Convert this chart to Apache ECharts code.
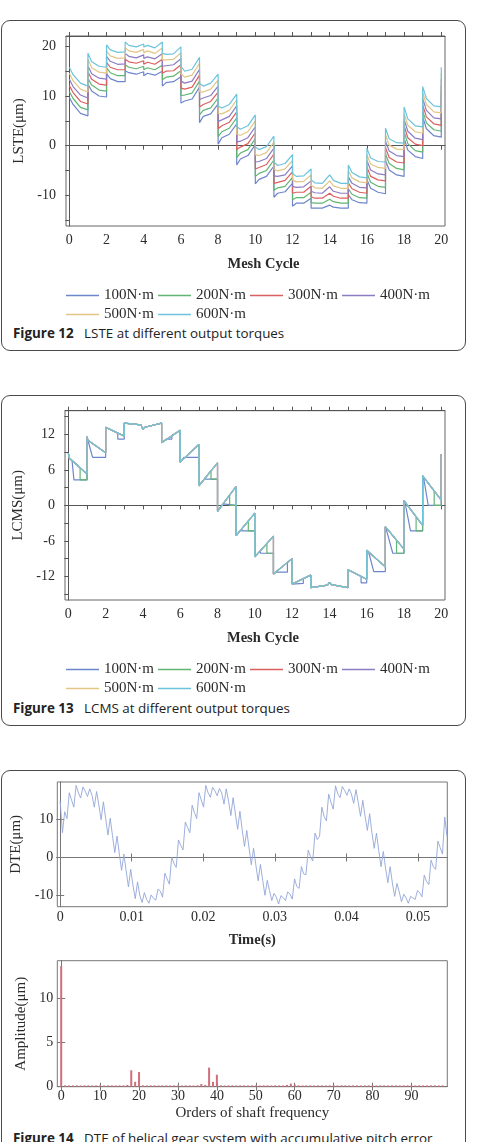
<!DOCTYPE html>
<html>
<head>
<meta charset="utf-8">
<script src="https://cdn.jsdelivr.net/npm/echarts@6/dist/echarts.min.js"></script>
<style>
  html, body { margin: 0; padding: 0; background: #fff; }
  body { width: 481px; height: 1142px; position: relative; overflow: hidden; font-family: "Open Sans", sans-serif; }
  .box { position: absolute; left: 1px; width: 465px; border: 1.3px solid #4a4a4a; border-radius: 9px; box-sizing: border-box; }
  .chart { position: absolute; left: 0; width: 481px; }
  .cap { position: absolute; left: 13px; font-size: 13.4px; line-height: 18px; color: #222; white-space: nowrap; }
  .cap b { font-weight: 700; margin-right: 7px; }
</style>
</head>
<body>
<div class="box" style="top:20px;height:331px"></div>
<div class="box" style="top:395px;height:331px"></div>
<div class="box" style="top:770px;height:400px"></div>

<div id="fig12" class="chart" style="top:0;height:324px"></div>
<div id="fig13" class="chart" style="top:380px;height:318px"></div>
<div id="fig14" class="chart" style="top:760px;height:365px"></div>

<div class="cap" style="top:324px"><b>Figure 12</b> LSTE at different output torques</div>
<div class="cap" style="top:699px"><b>Figure 13</b> LCMS at different output torques</div>
<div class="cap" style="top:1129px"><b>Figure 14</b> DTE of helical gear system with accumulative pitch error</div>

<script>
// ---- shared legend / colours ----
const TORQUES = ['100N·m', '200N·m', '300N·m', '400N·m', '500N·m', '600N·m'];
const COLORS = ['#6e86cc', '#62b573', '#dc5f5f', '#8c7cc4', '#e3c585', '#6cc3dc'];
const SERIF = 'Liberation Serif';

// ---- Figure 12: LSTE (4 samples per mesh cycle + closing point) ----
const MESH_X = [
  0, 0.2, 0.6, 1,   1, 1.2, 1.6, 2,   2, 2.2, 2.6, 3,   3, 3.2, 3.6, 4,
  4, 4.2, 4.6, 5,   5, 5.2, 5.6, 6,   6, 6.2, 6.6, 7,   7, 7.2, 7.6, 8,
  8, 8.2, 8.6, 9,   9, 9.2, 9.6, 10,  10, 10.2, 10.6, 11,  11, 11.2, 11.6, 12,
  12, 12.2, 12.6, 13,  13, 13.2, 13.6, 14,  14, 14.2, 14.6, 15,  15, 15.2, 15.6, 16,
  16, 16.2, 16.6, 17,  17, 17.2, 17.6, 18,  18, 18.2, 18.6, 19,  19, 19.2, 19.6, 20,
  20
];
const LSTE_100 = [
  9.7, 8.3, 6.5, 6.0,   12.4, 11.0, 10.0, 9.8,   14.5, 13.5, 12.9, 12.9,   15.1, 14.7, 14.4, 14.9,
  14.1, 14.6, 14.2, 15.0,   12.0, 12.7, 12.9, 13.9,   8.6, 9.0, 9.4, 11.8,   4.6, 5.9, 6.4, 8.4,
  0.3, 1.6, 2.3, 4.4,   -3.9, -2.7, -2.0, 0.2,   -7.7, -6.8, -6.2, -4.1,   -10.4, -9.6, -9.3, -7.6,
  -12.2, -11.6, -11.6, -10.6,   -12.6, -12.6, -12.6, -12.0,   -12.0, -12.4, -12.6, -12.6,   -9.9, -10.9, -11.5, -11.6,
  -6.8, -8.6, -9.4, -9.7,   -3.0, -4.9, -5.9, -6.2,   1.5, -0.9, -2.2, -2.6,   5.8, 3.4, 2.0, 1.7,
  9.7
];
const LSTE_200 = [
  10.9, 9.5, 7.7, 7.2,   13.6, 12.2, 11.2, 11.0,   15.7, 14.7, 14.1, 14.1,   16.3, 15.8, 15.5, 16.0,
  15.3, 15.7, 15.3, 16.2,   13.3, 13.8, 14.0, 15.1,   10.1, 10.2, 10.6, 13.0,   6.2, 7.1, 7.6, 9.6,
  1.8, 2.8, 3.5, 5.6,   -2.4, -1.5, -0.8, 1.4,   -6.2, -5.6, -5.0, -2.9,   -9.0, -8.5, -8.2, -6.4,
  -10.9, -10.5, -10.5, -9.4,   -11.5, -11.6, -11.6, -10.8,   -10.8, -11.3, -11.6, -11.6,   -8.7, -9.8, -10.5, -10.6,
  -5.5, -7.4, -8.2, -8.4,   -1.7, -3.6, -4.6, -4.9,   2.8, 0.4, -1.0, -1.3,   7.0, 4.6, 3.2, 2.9,
  10.9
];
const LSTE_300 = [
  12.1, 10.7, 8.9, 8.4,   14.9, 13.4, 12.4, 12.2,   16.8, 15.8, 15.3, 15.3,   17.4, 16.9, 16.6, 17.1,
  16.4, 16.8, 16.4, 17.4,   14.6, 15.0, 15.1, 16.3,   11.6, 11.4, 11.8, 14.2,   7.8, 8.3, 8.9, 10.8,
  3.4, 4.0, 4.7, 6.8,   -0.8, -0.3, 0.4, 2.6,   -4.7, -4.4, -3.8, -1.7,   -7.6, -7.4, -7.0, -5.3,
  -9.6, -9.4, -9.4, -8.2,   -10.3, -10.6, -10.6, -9.6,   -9.6, -10.2, -10.6, -10.6,   -7.5, -8.7, -9.4, -9.6,
  -4.3, -6.2, -6.9, -7.1,   -0.4, -2.4, -3.3, -3.5,   4.0, 1.6, 0.3, 0.0,   8.2, 5.8, 4.4, 4.1,
  12.1
];
const LSTE_400 = [
  13.4, 11.9, 10.2, 9.6,   16.1, 14.5, 13.6, 13.4,   18.0, 17.0, 16.4, 16.5,   18.6, 18.0, 17.7, 18.3,
  17.6, 17.9, 17.5, 18.5,   16.0, 16.1, 16.3, 17.5,   13.0, 12.6, 13.0, 15.4,   9.3, 9.6, 10.1, 12.0,
  4.9, 5.2, 5.9, 8.0,   0.7, 0.9, 1.6, 3.8,   -3.3, -3.2, -2.6, -0.5,   -6.1, -6.2, -5.9, -4.1,
  -8.2, -8.4, -8.3, -7.1,   -9.2, -9.5, -9.6, -8.3,   -8.3, -9.2, -9.6, -9.6,   -6.3, -7.6, -8.4, -8.5,
  -3.0, -4.9, -5.7, -5.9,   0.9, -1.1, -2.0, -2.2,   5.3, 2.9, 1.5, 1.2,   9.5, 7.1, 5.6, 5.4,
  13.4
];
const LSTE_500 = [
  14.6, 13.1, 11.4, 10.8,   17.4, 15.7, 14.8, 14.6,   19.1, 18.1, 17.6, 17.7,   19.7, 19.1, 18.8, 19.4,
  18.7, 19.1, 18.6, 19.7,   17.3, 17.3, 17.4, 18.7,   14.5, 13.8, 14.2, 16.6,   10.9, 10.8, 11.4, 13.2,
  6.5, 6.4, 7.1, 9.2,   2.3, 2.1, 2.8, 5.0,   -1.8, -2.0, -1.4, 0.7,   -4.7, -5.1, -4.7, -3.0,
  -6.9, -7.3, -7.2, -5.9,   -8.0, -8.5, -8.6, -7.1,   -7.1, -8.1, -8.6, -8.6,   -5.1, -6.5, -7.3, -7.5,
  -1.8, -3.7, -4.4, -4.6,   2.2, 0.1, -0.7, -0.8,   6.5, 4.1, 2.8, 2.5,   10.7, 8.3, 6.8, 6.6,
  14.6
];
const LSTE_600 = [
  15.8, 14.3, 12.6, 12.0,   18.6, 16.9, 16.0, 15.8,   20.3, 19.3, 18.8, 18.9,   20.9, 20.2, 19.9, 20.5,
  19.9, 20.2, 19.7, 20.9,   18.6, 18.4, 18.5, 19.9,   16.0, 15.0, 15.4, 17.8,   12.5, 12.0, 12.6, 14.4,
  8.0, 7.6, 8.3, 10.4,   3.8, 3.3, 4.0, 6.2,   -0.3, -0.8, -0.2, 1.9,   -3.3, -4.0, -3.6, -1.8,
  -5.6, -6.2, -6.1, -4.7,   -6.9, -7.5, -7.6, -5.9,   -5.9, -7.0, -7.6, -7.6,   -3.9, -5.4, -6.3, -6.5,
  -0.5, -2.5, -3.2, -3.3,   3.5, 1.4, 0.6, 0.5,   7.8, 5.4, 4.0, 3.8,   11.9, 9.5, 8.0, 7.8,
  15.8
];
const LSTE_TICKS_Y = [-15, -10, -5, 0, 5, 10, 15, 20];
const LSTE_LABELS_Y = [-10, 0, 10, 20];

// ---- Figure 13: LCMS ([mesh cycle, value]) ----
const LCMS_UPPER = [
  [0, 8.8], [0.05, 8.0], [1, 5.3], [1, 11.6], [1.05, 11.0], [2, 8.9], [2, 13.2], [3, 11.7],
  [3, 13.9], [3.9, 13.6], [4, 12.8], [4.1, 13.2], [5, 13.9], [5, 10.6], [6, 12.7], [6, 7.3], [7, 10.3],
  [7, 3.3], [8, 7.2], [8, -1.0], [9, 3.2], [9, -5.1], [10, -1.3], [10, -8.7], [11, -5.2],
  [11, -11.6], [12, -9.0], [12, -13.3], [13, -11.8], [13, -13.9], [13.9, -13.5], [14, -13.0],
  [14.1, -13.4], [15, -13.9], [15, -10.9], [16, -12.5], [16, -7.6], [17, -10.4], [17, -3.6], [18, -7.4],
  [18, 0.8], [19, -3.4], [19, 5.0], [20, 0.9], [20, 8.7]
];
const LCMS_200 = [
  [0, 8.8], [0.05, 8.0], [0.63, 6.35], [0.63, 4.3], [1, 4.3], [1, 11.6], [1.05, 11.0], [2, 8.9],
  [2, 13.2], [3, 11.7], [3, 13.9], [3.9, 13.6], [4, 12.8], [4.1, 13.2], [5, 13.9], [5, 10.6], [6, 12.7],
  [6, 7.3], [7, 10.3], [7, 3.3], [7.65, 5.85], [7.65, 4.45], [8, 4.45], [8, -1.0], [8.65, 1.73], [8.65, 0], [9, 0],
  [9, -5.1], [9.65, -2.63], [9.65, -4.3], [10, -4.3], [10, -8.7], [10.65, -6.5], [10.65, -8.1], [11, -8.1],
  [11, -11.6], [12, -9.0], [12, -13.3], [13, -11.8], [13, -13.9], [13.9, -13.5], [14, -13.0], [14.1, -13.4],
  [15, -13.9], [15, -10.9], [16, -12.5], [16, -7.6], [17, -10.4], [17, -3.6], [17.6, -5.9], [17.6, -8.1], [18, -8.1],
  [18, 0.8], [18.65, -1.93], [18.65, -4.3], [19, -4.3], [19, 5.0], [19.62, 2.46], [19.62, 0], [20, 0], [20, 8.7]
];
const LCMS_100 = [
  [0, 8.8], [0.05, 8.0], [0.2, 7.5], [0.3, 4.3], [1, 4.3], [1, 11.6], [1.05, 11.0], [1.3, 8.1], [2, 8.1],
  [2, 13.2], [2.65, 12.2], [2.65, 11.2], [3, 11.2], [3, 13.9], [3.9, 13.6], [4, 12.8], [4.1, 13.2], [5, 13.9],
  [5, 10.6], [5.25, 11.2], [5.55, 11.2], [5.55, 11.8], [6, 12.7], [6, 7.3], [6.2, 8.1], [7, 8.1],
  [7, 3.3], [7.3, 4.45], [8, 4.45], [8, -1.0], [8.3, 0.26], [8.3, 0], [9, 0],
  [9, -5.1], [9.3, -3.96], [9.3, -4.3], [10, -4.3], [10, -8.7], [10.3, -7.7], [10.3, -8.1], [11, -8.1],
  [11, -11.6], [11.12, -11.3], [11.75, -11.3], [11.75, -9.65], [12, -9.0],
  [12, -13.3], [12.1, -13.2], [12.6, -13.2], [12.6, -12.4], [13, -11.8],
  [13, -13.9], [13.9, -13.5], [14, -13.0], [14.1, -13.4], [15, -13.9],
  [15, -10.9], [15.7, -12.0], [15.7, -13.1], [16, -13.1], [16, -7.6], [16.12, -8.1], [16.38, -11.2], [17, -11.2],
  [17, -3.6], [17.08, -4.4], [17.4, -8.1], [18, -8.1], [18, 0.8], [18.08, 0.1], [18.35, -4.3], [19, -4.3],
  [19, 5.0], [19.08, 4.2], [19.3, 0], [20, 0], [20, 8.7]
];
const LCMS_TICKS_Y = [-15, -12, -9, -6, -3, 0, 3, 6, 9, 12, 15];
const LCMS_LABELS_Y = [-12, -6, 0, 6, 12];

const MESH_TICKS_X = [0, 1, 2, 3, 4, 5, 6, 7, 8, 9, 10, 11, 12, 13, 14, 15, 16, 17, 18, 19, 20];
const MESH_LABELS_X = [0, 2, 4, 6, 8, 10, 12, 14, 16, 18, 20];

// ---- Figure 14: DTE time signal (sample step DTE_DT seconds) ----
const DTE_DT = 0.000318;
const DTE = [
  14.8, 6.5, 12.0, 10.2, 17.0, 15.1, 13.2, 18.9, 17.0, 15.6,
  18.5, 17.4, 16.0, 18.0, 16.3, 13.2, 17.3, 13.8, 9.9, 14.6,
  10.2, 5.9, 10.3, 5.7, 1.3, 5.6, 1.0, -3.4, 0.9, -3.5,
  -7.7, -3.1, -7.3, -10.8, -6.4, -9.9, -11.8, -9.2, -11.0, -12.0,
  -9.8, -10.7, -11.2, -8.3, -8.8, -10.4, -4.1, -5.6, -7.0, 0.1,
  -1.5, -2.6, 4.6, 3.2, 2.0, 9.3, 7.9,
  6.5, 13.7, 11.8, 10.2, 17.0, 15.1, 13.2, 18.9, 17.0, 15.8,
  18.4, 17.5, 16.2, 18.1, 16.9, 14.0, 18.0, 14.8, 11.0, 15.7,
  11.4, 7.4, 12.1, 7.2, 2.9, 7.1, 2.5, -1.9, 2.4, -2.0,
  -6.1, -1.8, -6.0, -9.9, -6.0, -8.7, -11.3, -9.4, -10.4, -12.2,
  -10.0, -10.5, -11.3, -9.0, -9.6, -10.9, -5.6, -7.6, -8.1, -2.4,
  -4.3, -4.5, 1.9, 0.3, -0.9, 6.4, 4.7,
  5.6, 13.2, 10.8, 9.6, 16.6, 14.5, 12.7, 18.8, 16.7, 15.7,
  18.6, 17.6, 16.3, 18.0, 16.6, 14.2, 17.8, 14.4, 10.8, 15.0,
  10.8, 7.1, 11.5, 6.5, 2.4, 6.4, 1.8, -2.4, 1.6, -2.8,
  -6.6, -2.4, -6.7, -10.2, -6.8, -9.0, -11.6, -9.6, -10.6, -12.0,
  -10.2, -10.6, -11.0, -8.7, -9.2, -10.3, -4.6, -6.3, -7.1, -0.7,
  -2.4, -3.1, 4.3, 2.6, 0.9, 10.6, 5.5
];
const DTE_TICKS_X = [0, 0.01, 0.02, 0.03, 0.04, 0.05];
const DTE_TICKS_Y = [-10, 0, 10];

// spectrum amplitude per shaft order 0..98
const SPEC_AMP = [
  13.6, 0.15, 0.14, 0.15, 0.15, 0.14, 0.15, 0.15, 0.14, 0.15,
  0.15, 0.14, 0.15, 0.15, 0.14, 0.15, 0.15, 0.2, 1.85, 0.55,
  1.65, 0.15, 0.14, 0.15, 0.15, 0.14, 0.15, 0.15, 0.14, 0.15,
  0.15, 0.14, 0.15, 0.15, 0.14, 0.15, 0.3, 0.2, 2.15, 0.55,
  1.35, 0.15, 0.14, 0.15, 0.15, 0.14, 0.15, 0.15, 0.14, 0.15,
  0.15, 0.14, 0.15, 0.15, 0.14, 0.15, 0.15, 0.14, 0.2, 0.35,
  0.25, 0.15, 0.14, 0.15, 0.15, 0.14, 0.15, 0.15, 0.14, 0.15,
  0.15, 0.14, 0.15, 0.15, 0.14, 0.15, 0.15, 0.14, 0.15, 0.15,
  0.15, 0.14, 0.15, 0.15, 0.14, 0.15, 0.15, 0.14, 0.15, 0.15,
  0.15, 0.14, 0.15, 0.15, 0.14, 0.15, 0.15, 0.14, 0.15
];
const SPEC_TICKS_X = [0, 10, 20, 30, 40, 50, 60, 70, 80, 90];
const SPEC_TICKS_Y = [0, 5, 10];

const LABEL_STYLE = { fontFamily: SERIF, fontSize: 14, color: '#2b2b2b' };
const NAME_STYLE = { fontFamily: SERIF, fontSize: 15, color: '#2b2b2b' };

function meshChart(id, grid, legendTop, yRange, yTicks, yLabels, yName, seriesData) {
  const chart = echarts.init(document.getElementById(id));
  const line = { show: true, lineStyle: { color: '#555', width: 1 } };
  const tick = (vals) => ({ show: true, customValues: vals, length: 4, lineStyle: { color: '#555' } });
  chart.setOption({
    animation: false,
    color: COLORS,
    textStyle: { fontFamily: SERIF },
    grid: Object.assign({ show: true, borderColor: '#666', borderWidth: 1 }, grid),
    legend: {
      left: 66, top: legendTop, width: 372, padding: 0,
      icon: 'rect', itemWidth: 33, itemHeight: 1.4, itemGap: 4,
      textStyle: { fontFamily: SERIF, fontSize: 15, lineHeight: 14, color: '#2b2b2b' },
      data: TORQUES
    },
    xAxis: [
      {
        type: 'value', min: -0.18, max: 20.2, axisLine: line, axisTick: tick(MESH_TICKS_X),
        axisLabel: Object.assign({ customValues: MESH_LABELS_X, margin: 7 }, LABEL_STYLE),
        splitLine: { show: false },
        name: 'Mesh Cycle', nameLocation: 'middle', nameGap: 31,
        nameTextStyle: Object.assign({}, NAME_STYLE, { fontWeight: 'bold', fontSize: 14.5, padding: [0, 0, 0, 16] })
      },
      {
        type: 'value', position: 'top', min: -0.18, max: 20.2, axisLine: line, axisTick: tick(MESH_TICKS_X),
        axisLabel: { show: false }, splitLine: { show: false }
      }
    ],
    yAxis: {
      type: 'value', min: yRange[0], max: yRange[1], axisLine: line, axisTick: tick(yTicks),
      axisLabel: Object.assign({ customValues: yLabels, margin: 10 }, LABEL_STYLE),
      splitLine: { show: false },
      name: yName, nameLocation: 'middle', nameGap: 33, nameTextStyle: NAME_STYLE
    },
    series: seriesData.map((d, i) => ({
      name: TORQUES[i], type: 'line', data: d, symbol: 'none',
      lineStyle: { width: 1.2 }, z: 2 + i
    }))
  });
}

const zipMesh = (ys) => MESH_X.map((x, i) => [x, ys[i]]);

meshChart('fig12', { left: 66, top: 36, width: 379, height: 190 }, 288,
  [-16.2, 22.1], LSTE_TICKS_Y, LSTE_LABELS_Y, 'LSTE(μm)',
  [LSTE_100, LSTE_200, LSTE_300, LSTE_400, LSTE_500, LSTE_600].map(zipMesh));

meshChart('fig13', { left: 65, top: 30.7, width: 380, height: 189.3 }, 282,
  [-16, 16], LCMS_TICKS_Y, LCMS_LABELS_Y, 'LCMS(μm)',
  [LCMS_100, LCMS_200, LCMS_UPPER, LCMS_UPPER, LCMS_UPPER, LCMS_UPPER]);

// ---- Figure 14 ----
(function () {
  const chart = echarts.init(document.getElementById('fig14'));
  const frame = { show: true, lineStyle: { color: '#777', width: 1 } };
  const tick = (vals) => ({ show: true, inside: true, customValues: vals, length: 4, lineStyle: { color: '#777' } });
  const noLabel = { show: false };
  const noSplit = { show: false };
  chart.setOption({
    animation: false,
    textStyle: { fontFamily: SERIF },
    grid: [
      { left: 57.3, top: 22, width: 390, height: 124.7, show: true, borderColor: '#777', borderWidth: 1 },
      { left: 57.3, top: 200.7, width: 390, height: 126, show: true, borderColor: '#777', borderWidth: 1 }
    ],
    xAxis: [
      {
        gridIndex: 0, type: 'value', min: -0.0004, max: 0.0541, axisLine: frame, axisTick: tick(DTE_TICKS_X),
        axisLabel: Object.assign({ customValues: DTE_TICKS_X, margin: 4, formatter: (v) => (v === 0 ? '0' : v.toFixed(2)) }, LABEL_STYLE),
        splitLine: noSplit,
        name: 'Time(s)', nameLocation: 'middle', nameGap: 26,
        nameTextStyle: Object.assign({}, NAME_STYLE, { fontWeight: 'bold', fontSize: 14.5 })
      },
      {
        gridIndex: 0, type: 'value', position: 'top', min: -0.0004, max: 0.0541, axisLine: frame,
        axisTick: tick(DTE_TICKS_X), axisLabel: noLabel, splitLine: noSplit
      },
      {
        gridIndex: 1, type: 'value', min: -1, max: 99.2, axisLine: frame, axisTick: tick(SPEC_TICKS_X),
        axisLabel: Object.assign({ customValues: SPEC_TICKS_X, margin: 3 }, LABEL_STYLE),
        splitLine: noSplit,
        name: 'Orders of shaft frequency', nameLocation: 'middle', nameGap: 19, nameTextStyle: NAME_STYLE
      },
      {
        gridIndex: 1, type: 'value', position: 'top', min: -1, max: 99.2, axisLine: frame,
        axisTick: tick(SPEC_TICKS_X), axisLabel: noLabel, splitLine: noSplit
      }
    ],
    yAxis: [
      {
        gridIndex: 0, type: 'value', min: -12.9, max: 19.8, axisLine: frame, axisTick: tick(DTE_TICKS_Y),
        axisLabel: Object.assign({ customValues: DTE_TICKS_Y, margin: 4 }, LABEL_STYLE),
        splitLine: noSplit, name: 'DTE(μm)', nameLocation: 'middle', nameGap: 25, nameTextStyle: NAME_STYLE
      },
      {
        gridIndex: 0, type: 'value', position: 'right', min: -12.9, max: 19.8, axisLine: frame,
        axisTick: tick(DTE_TICKS_Y), axisLabel: noLabel, splitLine: noSplit
      },
      {
        gridIndex: 1, type: 'value', min: 0, max: 14.2, axisLine: frame, axisTick: tick(SPEC_TICKS_Y),
        axisLabel: Object.assign({ customValues: SPEC_TICKS_Y, margin: 4 }, LABEL_STYLE),
        splitLine: noSplit, name: 'Amplitude(μm)', nameLocation: 'middle', nameGap: 25, nameTextStyle: NAME_STYLE
      },
      {
        gridIndex: 1, type: 'value', position: 'right', min: 0, max: 14.2, axisLine: frame,
        axisTick: tick(SPEC_TICKS_Y), axisLabel: noLabel, splitLine: noSplit
      }
    ],
    series: [
      {
        type: 'line', xAxisIndex: 0, yAxisIndex: 0, symbol: 'none',
        data: DTE.map((v, i) => [i * DTE_DT, v]),
        lineStyle: { color: '#93a6d8', width: 0.9 }
      },
      {
        type: 'bar', xAxisIndex: 2, yAxisIndex: 2, barWidth: 2,
        data: SPEC_AMP.map((v, i) => [i, v]),
        itemStyle: { color: '#cf6f7a' }
      }
    ]
  });
})();
</script>
</body>
</html>
